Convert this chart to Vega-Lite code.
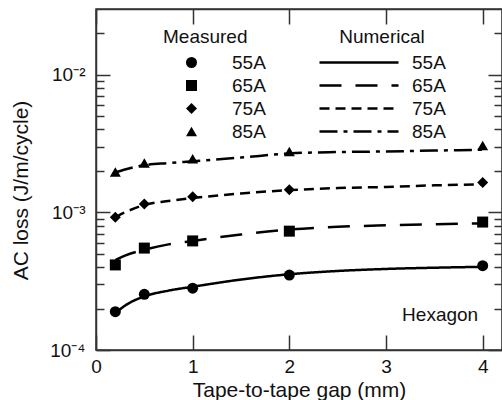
{
  "$schema": "https://vega.github.io/schema/vega-lite/v6.json",
  "width": 406,
  "height": 341,
  "autosize": {"type": "none"},
  "padding": {"left": 96, "top": 9, "right": 0, "bottom": 50},
  "config": {
    "font": "Liberation Sans",
    "view": {"stroke": "#333", "strokeWidth": 1.5},
    "axis": {
      "domainColor": "#333", "domainWidth": 1.5,
      "tickColor": "#333", "tickWidth": 1.5,
      "labelColor": "#111", "titleColor": "#111",
      "labelFontSize": 19, "titleFontSize": 21, "titleFontWeight": "normal",
      "grid": false
    },
    "legend": {"padding": 0, "titleFontWeight": "normal", "titleFontSize": 19, "labelFontSize": 19, "titleColor": "#111", "labelColor": "#111"}
  },
  "datasets": {
    "measured": [
      {"gap": 0.2, "loss": 0.00019, "Measured": "55A"},
      {"gap": 0.5, "loss": 0.000254, "Measured": "55A"},
      {"gap": 1, "loss": 0.000281, "Measured": "55A"},
      {"gap": 2, "loss": 0.00035, "Measured": "55A"},
      {"gap": 4, "loss": 0.00041, "Measured": "55A"},
      {"gap": 0.2, "loss": 0.000415, "Measured": "65A"},
      {"gap": 0.5, "loss": 0.00055, "Measured": "65A"},
      {"gap": 1, "loss": 0.00062, "Measured": "65A"},
      {"gap": 2, "loss": 0.00073, "Measured": "65A"},
      {"gap": 4, "loss": 0.00085, "Measured": "65A"},
      {"gap": 0.2, "loss": 0.00092, "Measured": "75A"},
      {"gap": 0.5, "loss": 0.00115, "Measured": "75A"},
      {"gap": 1, "loss": 0.0013, "Measured": "75A"},
      {"gap": 2, "loss": 0.00146, "Measured": "75A"},
      {"gap": 4, "loss": 0.00165, "Measured": "75A"},
      {"gap": 0.2, "loss": 0.00196, "Measured": "85A"},
      {"gap": 0.5, "loss": 0.00228, "Measured": "85A"},
      {"gap": 1, "loss": 0.00245, "Measured": "85A"},
      {"gap": 2, "loss": 0.00277, "Measured": "85A"},
      {"gap": 4, "loss": 0.00306, "Measured": "85A"}
    ],
    "numerical": [
      {"gap": 0.2, "loss": 0.000185, "Numerical": "55A"},
      {"gap": 0.3, "loss": 0.00021, "Numerical": "55A"},
      {"gap": 0.5, "loss": 0.000245, "Numerical": "55A"},
      {"gap": 0.75, "loss": 0.00027, "Numerical": "55A"},
      {"gap": 1, "loss": 0.000288, "Numerical": "55A"},
      {"gap": 1.5, "loss": 0.000325, "Numerical": "55A"},
      {"gap": 2, "loss": 0.000355, "Numerical": "55A"},
      {"gap": 2.5, "loss": 0.000375, "Numerical": "55A"},
      {"gap": 3, "loss": 0.000388, "Numerical": "55A"},
      {"gap": 3.5, "loss": 0.000396, "Numerical": "55A"},
      {"gap": 4, "loss": 0.000402, "Numerical": "55A"},
      {"gap": 0.2, "loss": 0.00045, "Numerical": "65A"},
      {"gap": 0.3, "loss": 0.000485, "Numerical": "65A"},
      {"gap": 0.5, "loss": 0.000535, "Numerical": "65A"},
      {"gap": 0.75, "loss": 0.000585, "Numerical": "65A"},
      {"gap": 1, "loss": 0.00062, "Numerical": "65A"},
      {"gap": 1.5, "loss": 0.00069, "Numerical": "65A"},
      {"gap": 2, "loss": 0.00075, "Numerical": "65A"},
      {"gap": 2.5, "loss": 0.000785, "Numerical": "65A"},
      {"gap": 3, "loss": 0.000805, "Numerical": "65A"},
      {"gap": 3.5, "loss": 0.00082, "Numerical": "65A"},
      {"gap": 4, "loss": 0.00083, "Numerical": "65A"},
      {"gap": 0.2, "loss": 0.00092, "Numerical": "75A"},
      {"gap": 0.3, "loss": 0.001, "Numerical": "75A"},
      {"gap": 0.5, "loss": 0.00113, "Numerical": "75A"},
      {"gap": 0.75, "loss": 0.00121, "Numerical": "75A"},
      {"gap": 1, "loss": 0.00127, "Numerical": "75A"},
      {"gap": 1.5, "loss": 0.00137, "Numerical": "75A"},
      {"gap": 2, "loss": 0.00145, "Numerical": "75A"},
      {"gap": 2.5, "loss": 0.0015, "Numerical": "75A"},
      {"gap": 3, "loss": 0.00153, "Numerical": "75A"},
      {"gap": 3.5, "loss": 0.00157, "Numerical": "75A"},
      {"gap": 4, "loss": 0.0016, "Numerical": "75A"},
      {"gap": 0.2, "loss": 0.00195, "Numerical": "85A"},
      {"gap": 0.3, "loss": 0.00205, "Numerical": "85A"},
      {"gap": 0.5, "loss": 0.0022, "Numerical": "85A"},
      {"gap": 0.75, "loss": 0.00228, "Numerical": "85A"},
      {"gap": 1, "loss": 0.00235, "Numerical": "85A"},
      {"gap": 1.5, "loss": 0.0025, "Numerical": "85A"},
      {"gap": 2, "loss": 0.00268, "Numerical": "85A"},
      {"gap": 2.5, "loss": 0.00274, "Numerical": "85A"},
      {"gap": 3, "loss": 0.00277, "Numerical": "85A"},
      {"gap": 3.5, "loss": 0.00281, "Numerical": "85A"},
      {"gap": 4, "loss": 0.00285, "Numerical": "85A"}
    ],
    "note": [{"gap": 3.56, "loss": 0.00018, "label": "Hexagon"}]
  },
  "layer": [
    {
      "data": {"name": "numerical"},
      "mark": {"type": "line", "color": "black", "strokeWidth": 2.5, "interpolate": "monotone"},
      "encoding": {
        "x": {
          "field": "gap", "type": "quantitative",
          "scale": {"domain": [0, 4.2], "nice": false, "zero": false},
          "axis": {"orient": "bottom", "title": "Tape-to-tape gap (mm)", "values": [0, 1, 2, 3, 4], "tickSize": -15, "labelPadding": 22, "titlePadding": 3, "labelFlush": false}
        },
        "y": {
          "field": "loss", "type": "quantitative",
          "scale": {"type": "log", "domain": [0.0001, 0.03], "nice": false},
          "axis": {
            "orient": "left", "title": "AC loss (J/m/cycle)", "titleY": 181,
            "values": [0.0001, 0.0002, 0.0003, 0.0004, 0.0005, 0.0006, 0.0007, 0.0008, 0.0009, 0.001, 0.002, 0.003, 0.004, 0.005, 0.006, 0.007, 0.008, 0.009, 0.01, 0.02],
            "labelExpr": "datum.value == 0.0001 ? '10⁻⁴' : datum.value == 0.001 ? '10⁻³' : datum.value == 0.01 ? '10⁻²' : ''",
            "tickSize": {"condition": {"test": "datum.value == 0.0001 || datum.value == 0.001 || datum.value == 0.01", "value": -14}, "value": -8},
            "labelPadding": 25, "titlePadding": 18, "labelFlush": false
          }
        },
        "strokeDash": {
          "field": "Numerical", "type": "nominal",
          "scale": {"range": [[1, 0], [22, 14], [10, 6], [18, 6, 4, 6]]},
          "legend": {"title": "Numerical", "orient": "none", "legendX": 222, "legendY": 19, "titleAnchor": "middle", "symbolSize": 6241, "symbolStrokeWidth": 2.5, "symbolStrokeColor": "black", "symbolType": "stroke", "clipHeight": 19, "labelOffset": 12, "rowPadding": 3, "titlePadding": 6}
        }
      }
    },
    {
      "data": {"name": "measured"},
      "mark": {"type": "point", "filled": true, "color": "black", "opacity": 1, "size": 121},
      "encoding": {
        "x": {
          "field": "gap", "type": "quantitative",
          "scale": {"domain": [0, 4.2], "nice": false, "zero": false},
          "axis": {"orient": "top", "title": null, "labels": false, "values": [0, 1, 2, 3, 4], "tickSize": -15}
        },
        "y": {
          "field": "loss", "type": "quantitative",
          "scale": {"type": "log", "domain": [0.0001, 0.03], "nice": false},
          "axis": {
            "orient": "right", "title": null, "labels": false,
            "values": [0.0001, 0.0002, 0.0003, 0.0004, 0.0005, 0.0006, 0.0007, 0.0008, 0.0009, 0.001, 0.002, 0.003, 0.004, 0.005, 0.006, 0.007, 0.008, 0.009, 0.01, 0.02],
            "tickSize": {"condition": {"test": "datum.value == 0.0001 || datum.value == 0.001 || datum.value == 0.01", "value": -14}, "value": -8}
          }
        },
        "shape": {
          "field": "Measured", "type": "nominal",
          "scale": {"domain": ["55A", "65A", "75A", "85A"], "range": ["circle", "square", "diamond", "triangle-up"]},
          "legend": {"title": "Measured", "orient": "none", "legendX": 67, "legendY": 19, "symbolSize": 121, "symbolFillColor": "black", "symbolStrokeColor": "black", "symbolStrokeWidth": 0, "symbolOffset": 19, "clipHeight": 19, "labelOffset": 31, "rowPadding": 3, "titlePadding": 6}
        }
      }
    },
    {
      "data": {"name": "note"},
      "mark": {"type": "text", "fontSize": 19, "color": "#111", "align": "center", "baseline": "middle"},
      "encoding": {
        "x": {"field": "gap", "type": "quantitative", "scale": {"domain": [0, 4.2], "nice": false, "zero": false}, "axis": null},
        "y": {"field": "loss", "type": "quantitative", "scale": {"type": "log", "domain": [0.0001, 0.03], "nice": false}, "axis": null},
        "text": {"field": "label"}
      }
    }
  ],
  "resolve": {"axis": {"x": "independent", "y": "independent"}}
}
